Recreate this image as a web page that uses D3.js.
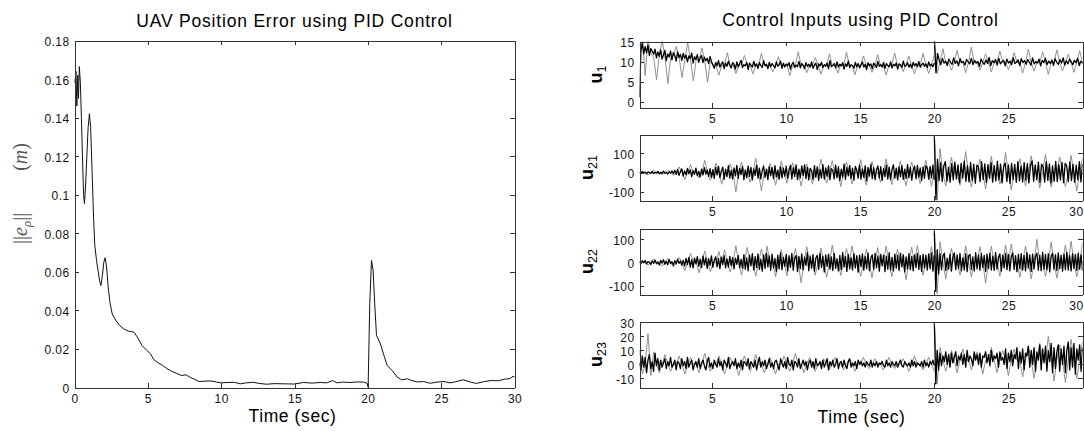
<!DOCTYPE html>
<html>
<head>
<meta charset="utf-8">
<script src="https://cdn.jsdelivr.net/npm/d3@7"></script>
<style>
  body { margin: 0; background: #fff; }
  svg { display: block; }
  text { font-family: "Liberation Sans", Arial, sans-serif; fill: #000; }
</style>
</head>
<body>
<div id="chart"></div>
<script>
(function () {
"use strict";

// ---------------------------------------------------------------------------
// Data
// ---------------------------------------------------------------------------

// Position error norm (m) vs time (sec)
var errTime = [0.03, 0.1, 0.16, 0.22, 0.27, 0.33, 0.4, 0.47, 0.55, 0.62, 0.68, 0.75, 0.83, 0.93,
  1.02, 1.1, 1.2, 1.3, 1.38, 1.5, 1.62, 1.72, 1.8, 1.9, 2.0, 2.09, 2.18, 2.3, 2.42, 2.57, 2.8,
  3.1, 3.4, 3.7, 4.05, 4.3, 4.6, 4.9, 5.18, 5.4, 5.7, 6.0, 6.3, 6.6, 7.0, 7.3, 7.6, 7.9, 8.2,
  8.5, 8.9, 9.3, 9.7, 10.0, 10.4, 10.9, 11.3, 11.7, 12.2, 12.6, 13.1, 13.6, 14.3, 15.0, 15.6,
  16.2, 16.8, 17.2, 17.6, 17.9, 18.3, 18.8, 19.3, 19.72, 19.95, 20.02, 20.13, 20.25, 20.36,
  20.47, 20.59, 20.75, 20.86, 21.1, 21.32, 21.66, 22.0, 22.3, 22.7, 23.0, 23.35, 23.8, 24.25,
  24.7, 25.2, 25.6, 26.0, 26.5, 27.0, 27.4, 27.9, 28.4, 28.9, 29.3, 29.7, 29.9, 30.0];
var errValue = [0.158, 0.164, 0.146, 0.162, 0.150, 0.1665, 0.158, 0.140, 0.118, 0.100, 0.0954,
  0.104, 0.118, 0.135, 0.142, 0.135, 0.112, 0.088, 0.074, 0.066, 0.060, 0.055, 0.0529, 0.058,
  0.065, 0.0673, 0.063, 0.052, 0.044, 0.0382, 0.035, 0.032, 0.0302, 0.0292, 0.0287, 0.026,
  0.0218, 0.0195, 0.0175, 0.0145, 0.0128, 0.0115, 0.0098, 0.0085, 0.0072, 0.0062, 0.0066,
  0.0052, 0.0042, 0.0031, 0.0033, 0.0034, 0.0028, 0.0024, 0.0026, 0.0027, 0.0019, 0.0024,
  0.0027, 0.0021, 0.0017, 0.0020, 0.0019, 0.0018, 0.0026, 0.0023, 0.0026, 0.0024, 0.0036,
  0.0024, 0.0028, 0.0026, 0.0029, 0.0028, 0.0022, 0.0002, 0.0434, 0.0659, 0.0607, 0.0434,
  0.027, 0.0245, 0.0226, 0.0166, 0.0114, 0.0088, 0.0054, 0.004, 0.0045, 0.0036, 0.0029,
  0.0031, 0.0022, 0.0028, 0.0031, 0.0024, 0.0030, 0.0040, 0.0028, 0.0021, 0.0030, 0.0036,
  0.0035, 0.0043, 0.0046, 0.0059, 0.0054];
var errXTicks = [0, 5, 10, 15, 20, 25, 30];
var errYTicks = [0, 0.02, 0.04, 0.06, 0.08, 0.1, 0.12, 0.14, 0.16, 0.18];

// Control inputs: samples are evenly spaced over [0.1, 20] ("before")
// and [20, 30] ("after"); black = dense trace, grey = occasional spikes
var u1BlackBefore = [1.0, 12.5, 14.8, 11.9, 13.7, 12.2, 14.1, 11.5, 13.2, 12.6,
  11.8, 13.1, 10.9, 12.4, 11.3, 12.9, 10.6, 11.7, 12.8, 10.2, 11.9, 11.1, 12.6, 10.4, 12.2, 11.5,
  10.1, 12.4, 11.0, 11.8, 10.3, 12.0, 10.8, 11.6, 9.9, 11.4, 10.7, 12.1, 9.6, 11.2, 10.5, 11.8,
  9.8, 10.9, 11.5, 9.7, 11.1, 10.2, 10.8, 9.5, 11.3, 10.0,
  9.1, 8.3, 9.8, 8.9, 10.2, 8.6, 9.4, 9.9, 8.2, 9.6, 8.8, 10.1, 9.0, 8.4, 9.7, 9.3, 8.1, 9.9, 8.7, 9.5,
  10.3, 8.5, 9.2, 8.9, 9.8, 8.0, 9.6, 9.1, 8.6, 10.0, 8.8, 9.4, 8.3, 9.7, 9.0, 8.5, 10.2, 8.9, 9.3, 8.2,
  9.8, 8.7, 9.5, 9.0, 8.4, 9.9, 8.8, 9.2, 10.1, 8.3, 9.6, 8.6, 9.4, 8.9, 9.7, 8.1, 9.3, 9.8, 8.5, 9.1,
  8.7, 10.0, 8.4, 9.5, 9.0, 8.2, 9.7, 8.8, 9.3, 8.6, 9.9, 8.3, 9.1, 9.6, 8.0, 9.4, 8.9, 9.8, 8.5, 9.2,
  8.8, 9.6, 8.2, 10.2, 8.7, 9.0, 9.5, 8.4, 9.9, 8.6, 9.3, 8.9, 9.7, 8.1, 9.4, 8.8, 10.1, 8.5, 9.2, 9.0,
  8.3, 9.8, 8.7, 9.5, 8.4, 9.1, 9.9, 8.6, 9.3, 8.0, 9.7, 8.9, 9.4, 8.2, 9.6, 9.1, 8.5, 10.0, 8.8, 9.2,
  8.6, 9.8, 8.3, 9.5, 9.0, 8.7, 9.9, 8.4, 9.3, 8.9, 9.6, 8.1, 9.4, 9.2, 8.5, 10.1, 8.8, 9.0, 9.7, 8.6,
  9.3, 8.4, 9.8, 8.9, 9.5, 8.7, 10.0, 8.6, 9.2, 9.6, 8.8, 9.4, 8.5, 9.9, 8.9, 9.3, 8.7, 9.6];
var u1BlackAfter = [15.5, 7.2, 12.0,
  10.4, 9.2, 10.8, 9.6, 10.1, 9.0, 10.6, 9.8, 9.3, 10.9, 9.5, 10.2, 8.9, 10.7, 9.7, 10.0, 9.1, 10.5, 9.9, 9.4,
  10.8, 9.2, 10.3, 9.6, 10.0, 8.8, 10.6, 9.8, 9.3, 10.4, 9.5, 11.0, 9.0, 10.2, 9.7, 10.5, 9.1, 10.8, 9.4, 9.9,
  10.3, 8.9, 10.6, 9.6, 10.1, 9.2, 10.9, 9.5, 9.8, 10.4, 9.0, 10.7, 9.7, 10.2, 9.3, 10.5, 9.8, 9.1, 10.9, 9.4,
  10.0, 9.6, 10.6, 8.9, 10.3, 9.7, 10.8, 9.2, 10.1, 9.5, 10.4, 9.0, 10.7, 9.8, 9.3, 10.5, 9.6, 10.9, 9.1, 10.2,
  9.4, 10.6, 9.9, 9.2, 10.3, 9.7, 10.8, 9.0, 10.1, 9.5];
var u1GreyBefore = [14, 16, 6.5, 15.5, 12,
  11, 5.5, 11.5, 15.3, 11, 4.5, 11, 11.5, 13.8, 10.8, 6.0, 10.5, 14.6, 10.5, 5.2, 10.5, 10.2, 13.4,
  10.2, 4.8, 10,
  9.2, 9.0, 6.6, 9.1, 9.2, 12.2, 9.0, 9.1, 7.0, 9.0, 9.2, 11.5, 9.1, 9.0, 6.9, 9.1, 9.0, 12.0, 9.2,
  9.0, 9.1, 7.4, 9.0, 11.2, 9.1,
  9.0, 9.2, 6.5, 9.0, 9.1, 12.4, 9.0, 9.2, 7.2, 9.1, 9.0, 11.0, 9.2, 6.8, 9.0, 9.1, 11.9, 9.0, 9.1,
  7.1, 9.2, 9.0, 12.3, 9.1, 9.0,
  6.7, 9.2, 9.1, 11.4, 9.0, 9.1, 7.3, 9.0, 11.7, 9.2, 9.0, 6.6, 9.1, 9.2, 12.1, 9.0, 9.1, 7.5, 9.2,
  11.3, 9.0, 6.9, 9.1, 9.0, 12.0, 9.2, 7.0, 9.1, 11.6];
var u1GreyAfter = [15.6, 7.0, 9.8, 13.2, 9.8, 9.7, 7.8, 9.8, 12.8, 9.7, 9.8, 7.2, 9.8, 13.6, 9.7,
  9.8, 7.9, 9.8, 11.9, 9.7, 7.4, 9.8, 9.7, 12.6, 9.8, 9.7, 8.0, 9.8, 12.2, 9.7, 9.8, 7.1, 9.8, 13.1,
  9.7, 7.6, 9.8, 9.7, 12.4, 9.8, 6.8, 9.7, 9.8, 12.9, 9.7, 7.7, 9.8, 11.8, 9.7, 7.3, 9.8, 12.7, 9.8];

var u21BlackBefore = [2, -4, 5, -1, 3, -6, 4, 1, -3, 6, -5, 2, -2, 7, -6, 3, -4, 8, -3, 1, -7, 5, -2, 9, -5,
  12, -8, 17, -14, 5, 20, -18, 9, -11, 22, -6, 15, -20, 11, -9, 24, -16, 7, -22, 18, -12, 26, -8, 14, -19, 21,
  -24, 16, -30, 27, -12, 33, -26, 8, 29, -35, 19, -21, 36, -28, 12, -33, 25, -17, 38, -30, 22, -10,
  31, -37, 15, -26, 34, -19, 28, -38, 20, -14, 39, -29, 24, -33, 11, 35, -25, 18, -36, 30, -16, 27,
  -31, 37, -22, 13, -34, 32, -27, 23, -18,
  34, -29, 15, 38, -33, 26, -20, 41, -36, 19, -27, 35, -14, 40, -31, 28, -38, 22, 11, -35, 37, -24,
  30, -40, 17, -28, 42, -33, 25, -19, 36, -37, 21, 13, -32, 39, -26, 31, -41, 18,
  -23, 44, -35, 27, -16, 38, -30, 24, -39, 33, 12, -29, 40, -34, 20, -25, 36, -42, 28, -18, 43, -31,
  26, -37, 15, 35, -27, 32, -40, 22, -21, 39, -33, 29, -36, 17, 41, -28, 24, -38,
  31, -22, 37, -35, 19, -30, 42, -26, 27, -39, 14, 34, -32, 38, -24, 25, -41, 30, -29, 36, 21, -34,
  33, -27, 40, -36];
var u21BlackAfter = [190, -140, 70, -40, 52, -46, 35, 58, -44, 28, -50, 47, -38, 55, -33, 41, -52,
  49, -28, 60, -45, 36, -48, 53, -41, 44, -55, 39, 30, -47, 57, -36, 46, -51, 42, -29, 54, -49, 37,
  -43, 59, -38, 45, -53, 33, 50, -46, 40, -56, 48, -35, 43, -50, 58, -42, 34, -48, 52, -39, 47,
  -54, 38, 61, -45, 41, -37, 55, -51, 44, 32, -49, 57, -40, 46, -53, 36, -44, 59, -47, 42, -38, 54,
  -52, 48, 35, -46, 56, -41, 43, -50, 39, -36, 58, -48, 45];
var u21GreyBefore = [0, 5, 0, -12, 0, 14, 0, 0, -10, 0, 12, 0, -15,
  0, 30, 0, -35, 0, 42, 0, 0, -28, 0, 65, 0, -40,
  0, 50, 0, -60, 0, 0, 45, 0, -100, 0, 55, 0, 0, -50, 0, 75, 0, -95, 0, 0, 48, 0, -65, 0, 60, 0,
  -55, 0, 52, 0, 0, -70, 0, 45, 0, -60, 0, 0, 70, 0, -55, 0, 62, 0, 0, -72, 0, 55, 0, -58, 0, 0, 68,
  0, -65, 0, 58, 0, 0, -50, 0, 72, 0, -62, 0, 0, 60, 0, -68, 0, 55, 0, 0, -57, 0, 65, 0, -70, 0];
var u21GreyAfter = [198, -145, 125, 0, -70, 0, 80, 0, 0, -65, 0, 110, 0, -75, 0, 0, 70, 0, -85, 0,
  85, 0, 0, -60, 0, 105, 0, -90, 0, 0, 72, 0, -68, 0, 88, 0, 0, -80, 0, 95, 0, -75, 0, 0, 82, 0,
  -72, 0, 90, 0, -95, 0, 74];

var u22BlackBefore = [3, -5, 6, -2, 8, -7, 4, 1, -9, 7, -4, 10, -6, 2, -11, 9, -3, 12, -8, 5, -10,
  13, -5, 3, -12, 8, -7, 14, -4, 6, -13, 10,
  -15, 18, -9, 22, -20, 12, -24, 19, -6, 25, -17, 14, -22, 27, -11, 20, -26, 16, -13, 28, -21, 9,
  24, -19, 17, -27, 23, -10, 29, -24, 15, -20, 26, -14, 21, -28, 18, -8, 30, -23, 13, -25,
  34, -29, 20, -36, 31, -15, 38, -33, 25, -22, 37, -30, 14, -38, 33, -26, 40, -19, 28, -35,
  36, -24, 17, -39, 32, -28, 41, -31, 22, -16, 35, -37, 29, -21, 39, -34, 18, 30, -40, 26,
  -27, 37, -32, 23, -13, 42, -36, 28, -25, 34, -38, 19, 31, -30, 40, -22, 27, -41, 33, -17,
  36, -29, 24, -35, 39, -26, 16, -37, 30, -31, 43, -20, 25, -39, 35, -28, 21, -33, 38, -24,
  29, -42, 32, -18, 37, -34, 26, -27, 41, -36, 20, 33, -30, 39, -23, 28, -38, 35, -15, 31,
  -40, 27, -29, 42, -32, 22, -37, 36, -25, 30, -35, 40, -19, 34, -41, 24, -28, 38, -31, 26,
  -36, 33, -22, 39, -30, 29, -39, 35, -24, 32, -33, 37, -27, 41, -38, 30];
var u22BlackAfter = [135, -125, 55, -50, 38, -32, 26, 40, -35, 18, -29, 36, -38, 23, 41, -31, 33,
  -27, 39, -36, 20, -33, 37, -40, 28, 35, -30, 24, -37, 42, -28, 31, -34, 38, -22, 30, -39, 36,
  -26, 40, -33, 27, -35, 43, -29, 22, 37, -38, 32, -24, 39, -31, 34, -36, 25, 41, -30, 29, -40,
  35, -27, 38, -33, 30, -37, 42, -25, 33, -39, 36, -28, 26, 40, -34, 31, -36, 44, -29, 35, -32,
  37, -41, 28, 39, -30, 34, -35, 41, -27, 32, -38, 36, -31, 43, -33, 29, -37, 38, -26, 35, -34,
  40, -29, 33, -36];
var u22GreyBefore = [0, 8, 0, -12, 0, 15, 0, 0, -16, 0, 18, 0, -20, 0, 22,
  0, -35, 0, 40, 0, 0, -45, 0, 50, 0, -40, 0, 0, 48, 0, 55, 0, -42, 0, 72,
  0, -55, 0, 65, 0, 0, -60, 0, 58, 0, 70, 0, 0, -62, 0, 55, 0, -58, 0, 0, 60, 0, -88, 0, 68, 0, 0,
  -55, 0, 62, 0, -65, 0, 75, 0, 0, -57, 0, 60, 0, 72, 0, 0, -60, 0, 58, 0, -66, 0, 64, 0, 0, 70,
  0, -62, 0, 57, 0, 0, -75, 0, 66, 0, 73, 0, -56, 0, 0, 68, 0];
var u22GreyAfter = [147, -135, 90, 0, -70, 0, 60, 0, 0, -55, 0, 72, 0, -62, 0, 0, 68, 0, -90, 0,
  70, 0, 0, -60, 0, 75, 0, 80, 0, 0, -64, 0, 70, 0, -72, 0, 100, 0, 0, -60, 0, 88, 0, -68, 0, 0,
  75, 0, 92, 0, -62, 0, 85];

var u23BlackBefore = [1, -4, 6, -2, 5, -6, 3, 7, -3, 2, -5, 8, -1, 4, -4,
  3, -2, 1, 4, -3, 2, -1, 5, -2, 0, 3, -4, 2, 1, -3, 4, -1, 2, -3, 5, -2, 1, 3, -4, 0, 2, -2, 4,
  -3, 1, 3, -1, -4, 2, 5, -2, 1, -3, 3, 0,
  -2, 4, -1, 2, -4, 3, 1, -2, 5, -3, 0, 2, -1, 4, -3, 1, -2, 3, -4, 2, 1, -1, 4, -3, 2, 0, -2, 3,
  -4, 1, 5, -2, 2, -1, 3, -3, 0, 4, -2, 1,
  -3, 2, 3, -1, -4, 4, 1, -2, 2, -3, 5, 0, -1, 3, -4, 2, 1, -2, 4, -3, 0, 3, -1, 2, -4, 1, 3, -2,
  2, -3, 4, -1, 0, 2, -3, 3, -2, 1, 4, -4,
  2, -1, 3, -2, 0, 4, -3, 1, 2, -2, 3, -1, -3, 2, 4, -2, 1, -1, 2, -3, 3, 0,
  2, -1, 1, -2, 2, 0, -1, 3, -2, 1, -1, 2, -2, 1, 0, 2, -1, -2, 3, -1, 1, -2, 2, 0, -1, 2, -2, 1,
  3, -1, -2, 2, 0, -1, 1, -2, 3, -1, 2, -2, 1, 0, -1, 2, -2, 3, -1, 1, -2, 2, 0, 3, -1];
var u23BlackAfter = [30, -14, 10, -4, 8, -1, 6, 2, 9, 0, 7, -2, 8, 1, 5, 9, -1, 6, 3, 8, 0, 7, -2,
  10, 2, 6, 4, -1, 9, 3, 7, 0, 8, -2, 6, 5, 9, 1, 7, -1,
  10, 2, 6, 4, 8, -2, 9, 3, 5, 0, 11, -3, 8, 2, 10, -1, 7, 4, 12, -3, 9, 1, 11, -4, 8, 6, 13, -2,
  10, 0, 12, -5, 9, 3, 14, -4, 11, 1, 13, -5,
  10, 2, 15, -6, 12, -3, 9, 14, -5, 11, 0, 13, -6, 10, 16, -4, 12, -2, 15, -7, 11, 3, 14, -5, 12];
var u23GreyBefore = [10, -7, 0, 22, -8, 9, 0, -6,
  0, 7, 0, -5, 0, 0, 6, 0, -7, 0, 5, 0, 0, -6, 0, 8, 0, -5, 0, 0, 6, 0, -7, 0, 5, 0, 0, -8, 0, 6,
  0, -5, 0, 7, 0, 0, -6, 0, 5, 0,
  -7, 0, 0, 6, 0, -5, 0, 8, 0, 0, -6, 0, 5, 0, -5, 0, 0, 4, 0, -4, 0, 5, 0, 0, -4, 0, 4, 0, -5, 0,
  0, 5, 0, -3, 0, 4, 0, 0, -4, 0,
  5, 0, -3, 0, 0, 4, 0, -5, 0, 6, 0, 0, -4, 0, 5, 0, -5];
var u23GreyAfter = [30.7, -14, 12, 3, -5, 3, 10, 3, -6, 3, 11, 3, 3, -4, 3, 9, 3, -7, 3, 3, 12, 3,
  -6, 3, 10, 3, -8, 3, 11, 3, 3, -9, 3, 13, 3, -10, 3, 15, 3, 3, 20, 3, -12, 3, 14, 3, -13, 3, 18,
  3, -10, 3, 16];

var uNames = ["1", "21", "22", "23"];
var uDomains = [[-1.5, 15], [-145, 199], [-139, 147], [-16.6, 30.7]];
var uYTicks = [[0, 5, 10, 15], [-100, 0, 100], [-100, 0, 100], [-10, 0, 10, 20, 30]];
var uXTicks = [[5, 10, 15, 20, 25], [5, 10, 15, 20, 25, 30], [5, 10, 15, 20, 25, 30], [5, 10, 15, 20, 25]];
var uBlack = [[u1BlackBefore, u1BlackAfter], [u21BlackBefore, u21BlackAfter],
              [u22BlackBefore, u22BlackAfter], [u23BlackBefore, u23BlackAfter]];
var uGrey = [[u1GreyBefore, u1GreyAfter], [u21GreyBefore, u21GreyAfter],
             [u22GreyBefore, u22GreyAfter], [u23GreyBefore, u23GreyAfter]];
var spanBefore = [0.1, 20.0],
    spanAfter = [20.0, 30.0];

// ---------------------------------------------------------------------------
// Layout
// ---------------------------------------------------------------------------
var fullWidth = 1084,
    fullHeight = 431;

var svg = d3.select("#chart").append("svg")
  .attr("width", fullWidth)
  .attr("height", fullHeight)
  .attr("viewBox", "0 0 " + fullWidth + " " + fullHeight);

var axisColor = "#333";
var tickFont = 12;

// Boxed MATLAB style axes with inward ticks on all four sides
function boxAxes(g, x, y, xTicks, yTicks, xFmt, yFmt) {
  var xr = x.range(), yr = y.range(), tl = 4.5;

  var bottomAxis = g.append("g")
    .attr("transform", "translate(0," + yr[0] + ")")
    .call(d3.axisBottom(x).tickValues(xTicks).tickSizeInner(-tl).tickSizeOuter(0)
      .tickPadding(7).tickFormat(xFmt));
  g.append("g")
    .attr("transform", "translate(0," + yr[1] + ")")
    .call(d3.axisTop(x).tickValues(xTicks).tickSizeInner(-tl).tickSizeOuter(0).tickFormat(""));
  var leftAxis = g.append("g")
    .attr("transform", "translate(" + xr[0] + ",0)")
    .call(d3.axisLeft(y).tickValues(yTicks).tickSizeInner(-tl).tickSizeOuter(0)
      .tickPadding(5).tickFormat(yFmt));
  g.append("g")
    .attr("transform", "translate(" + xr[1] + ",0)")
    .call(d3.axisRight(y).tickValues(yTicks).tickSizeInner(-tl).tickSizeOuter(0).tickFormat(""));

  g.selectAll(".domain, .tick line")
    .style("stroke", axisColor)
    .style("stroke-width", 1)
    .attr("shape-rendering", "crispEdges");
  g.selectAll("g").attr("font-family", null).attr("font-size", null);
  g.selectAll(".tick text")
    .style("font-size", tickFont + "px")
    .style("letter-spacing", "0.4px")
    .style("fill", "#111");
  leftAxis.selectAll(".tick text").attr("dy", "0.42em");

  // a tick label sitting on the figure's right edge is pulled inside it
  bottomAxis.selectAll(".tick text")
    .filter(function(d) { return x(d) > fullWidth - 8; })
    .attr("text-anchor", "end")
    .attr("x", fullWidth - 1 - x(30));
}

function plainFmt(d) { return String(d); }

// ---------------------------------------------------------------------------
// Left: position error
// ---------------------------------------------------------------------------
var errX = d3.scaleLinear().domain([0, 30]).range([74.5, 514.5]);
var errY = d3.scaleLinear().domain([0, 0.18]).range([387.5, 40.5]);

var leftGroup = svg.append("g").attr("id", "error-plot");

leftGroup.append("path")
  .datum(d3.zip(errTime, errValue))
  .attr("d", d3.line()
    .x(function(d) { return errX(d[0]); })
    .y(function(d) { return errY(d[1]); }))
  .style("fill", "none")
  .style("stroke", "#111")
  .style("stroke-width", 1);

boxAxes(leftGroup, errX, errY, errXTicks, errYTicks, plainFmt, plainFmt);

leftGroup.append("text")
  .attr("x", 294.5)
  .attr("y", 26.5)
  .style("text-anchor", "middle")
  .style("font-size", "17.5px")
  .style("letter-spacing", "0.8px")
  .text("UAV Position Error using PID Control");

leftGroup.append("text")
  .attr("x", 292.5)
  .attr("y", 422)
  .style("text-anchor", "middle")
  .style("font-size", "17.5px")
  .style("letter-spacing", "0.6px")
  .text("Time (sec)");

// LaTeX style y label: ||e_rho||  (m)
var yLab = leftGroup.append("text")
  .attr("transform", "translate(27,244) rotate(-90)")
  .style("font-family", "'Liberation Serif', 'DejaVu Serif', serif")
  .style("font-size", "20px")
  .style("fill", "#555");
yLab.append("tspan").text("||");
yLab.append("tspan").style("font-style", "italic").text("e");
yLab.append("tspan").attr("dy", 4).style("font-style", "italic").style("font-size", "13px").text("ρ");
yLab.append("tspan").attr("dy", -4).text("||");
yLab.append("tspan").attr("dx", 42).text("(");
yLab.append("tspan").style("font-style", "italic").text("m");
yLab.append("tspan").text(")");

// ---------------------------------------------------------------------------
// Right: control inputs
// ---------------------------------------------------------------------------
var uX = d3.scaleLinear().domain([0.1, 30]).range([639.5, 1082.5]);
var panelTops = [41.5, 134.5, 228.5, 321.5];
var panelHeight = 66;
var labelBaseX = [602, 593, 593, 602];

var defs = svg.append("defs");

uNames.forEach(function(name, k) {
  var top = panelTops[k],
      bottom = top + panelHeight;
  var y = d3.scaleLinear().domain(uDomains[k]).range([bottom, top]);
  var g = svg.append("g").attr("id", "u" + name + "-panel");

  defs.append("clipPath")
      .attr("id", "clip-u" + name)
    .append("rect")
      .attr("x", uX.range()[0])
      .attr("y", top)
      .attr("width", uX.range()[1] - uX.range()[0])
      .attr("height", panelHeight);

  var plotArea = g.append("g").attr("clip-path", "url(#clip-u" + name + ")");

  function drawTrace(parts, color, width) {
    [spanBefore, spanAfter].forEach(function(span, j) {
      var vals = parts[j];
      var t = d3.scaleLinear().domain([0, vals.length - 1]).range(span);
      plotArea.append("path")
        .datum(vals)
        .attr("d", d3.line()
          .x(function(d, i) { return uX(t(i)); })
          .y(function(d) { return y(d); }))
        .style("fill", "none")
        .style("stroke", color)
        .style("stroke-width", width)
        .style("stroke-linejoin", "round");
    });
  }

  drawTrace(uGrey[k], "#858585", 0.9);
  drawTrace(uBlack[k], "#000", 1.3);

  boxAxes(g, uX, y, uXTicks[k], uYTicks[k], plainFmt, plainFmt);

  var lab = g.append("text")
    .attr("transform", "translate(" + labelBaseX[k] + "," + (top + panelHeight / 2) + ") rotate(-90)")
    .style("text-anchor", "middle");
  lab.append("tspan").style("font-weight", "bold").style("font-size", "18px").text("u");
  lab.append("tspan").attr("dy", 4).style("font-size", "12.5px").text(name);
});

svg.append("text")
  .attr("x", 860.5)
  .attr("y", 26)
  .style("text-anchor", "middle")
  .style("font-size", "17.5px")
  .style("letter-spacing", "0.8px")
  .text("Control Inputs using PID Control");

svg.append("text")
  .attr("x", 861.5)
  .attr("y", 423)
  .style("text-anchor", "middle")
  .style("font-size", "17.5px")
  .style("letter-spacing", "0.6px")
  .text("Time (sec)");

})();
</script>
</body>
</html>
